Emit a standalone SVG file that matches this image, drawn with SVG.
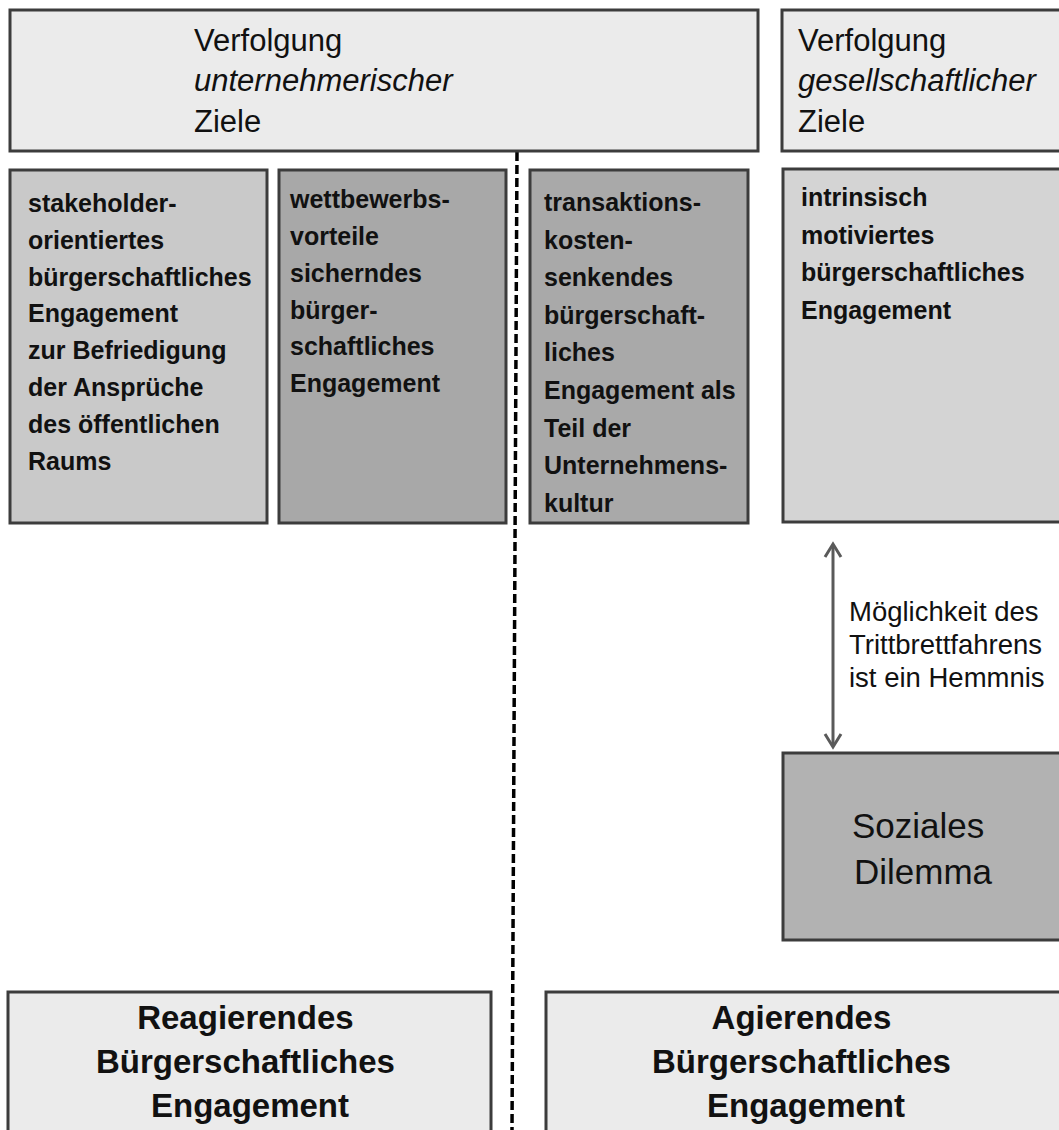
<svg xmlns="http://www.w3.org/2000/svg" width="1059" height="1130" viewBox="0 0 1059 1130">
<style>
.box{stroke:#3c3c3c;stroke-width:3}
.light{fill:#ebebeb}
.t{font-family:"Liberation Sans",Arial,sans-serif;fill:#111}
.hdr{font-size:31px}
.b{font-size:25px;font-weight:bold}
.lbl{font-size:27.5px}
.big{font-size:35px}
.bot{font-size:33px;font-weight:bold}
</style>
<rect width="1059" height="1130" fill="#ffffff"/>

<g id="connectors">
<line x1="517" y1="152" x2="512" y2="1130" stroke="#000" stroke-width="3.5" stroke-dasharray="9,4"/>
<line x1="833" y1="545" x2="833" y2="746" stroke="#5a5a5a" stroke-width="3"/>
<path d="M825,557 L833,544 L841,557" fill="none" stroke="#5a5a5a" stroke-width="3"/>
<path d="M825,734 L833,747 L841,734" fill="none" stroke="#5a5a5a" stroke-width="3"/>
</g>

<g id="top-left">
<rect class="box light" x="10" y="10" width="748" height="141"/>
<text class="t hdr" x="194" y="51">Verfolgung</text>
<text class="t hdr" x="194" y="91" font-style="italic">unternehmerischer</text>
<text class="t hdr" x="194" y="132">Ziele</text>
</g>

<g id="top-right">
<rect class="box light" x="782" y="10" width="300" height="141"/>
<text class="t hdr" x="798" y="51">Verfolgung</text>
<text class="t hdr" x="798" y="91" font-style="italic">gesellschaftlicher</text>
<text class="t hdr" x="798" y="132">Ziele</text>
</g>

<g id="box-stakeholder">
<rect class="box" x="10" y="170" width="257" height="353" fill="#c9c9c9"/>
<text class="t b">
<tspan x="28" y="212">stakeholder-</tspan>
<tspan x="28" y="249">orientiertes</tspan>
<tspan x="28" y="286">bürgerschaftliches</tspan>
<tspan x="28" y="322">Engagement</tspan>
<tspan x="28" y="359">zur Befriedigung</tspan>
<tspan x="28" y="396">der Ansprüche</tspan>
<tspan x="28" y="433">des öffentlichen</tspan>
<tspan x="28" y="470">Raums</tspan>
</text>
</g>

<g id="box-wettbewerb">
<rect class="box" x="279" y="170" width="227" height="353" fill="#a8a8a8"/>
<text class="t b">
<tspan x="290" y="208">wettbewerbs-</tspan>
<tspan x="290" y="245">vorteile</tspan>
<tspan x="290" y="282">sicherndes</tspan>
<tspan x="290" y="319">bürger-</tspan>
<tspan x="290" y="355">schaftliches</tspan>
<tspan x="290" y="392">Engagement</tspan>
</text>
</g>

<g id="box-transaktion">
<rect class="box" x="530" y="170" width="218" height="353" fill="#a9a9a9"/>
<text class="t b">
<tspan x="544" y="211">transaktions-</tspan>
<tspan x="544" y="249">kosten-</tspan>
<tspan x="544" y="286">senkendes</tspan>
<tspan x="544" y="324">bürgerschaft-</tspan>
<tspan x="544" y="361">liches</tspan>
<tspan x="544" y="399">Engagement als</tspan>
<tspan x="544" y="437">Teil der</tspan>
<tspan x="544" y="474">Unternehmens-</tspan>
<tspan x="544" y="512">kultur</tspan>
</text>
</g>

<g id="box-intrinsisch">
<rect class="box" x="783" y="169" width="300" height="353" fill="#d4d4d4"/>
<text class="t b">
<tspan x="801" y="206">intrinsisch</tspan>
<tspan x="801" y="244">motiviertes</tspan>
<tspan x="801" y="281">bürgerschaftliches</tspan>
<tspan x="801" y="319">Engagement</tspan>
</text>
</g>

<g id="label-trittbrett">
<text class="t lbl">
<tspan x="849" y="621">Möglichkeit des</tspan>
<tspan x="849" y="654">Trittbrettfahrens</tspan>
<tspan x="849" y="687">ist ein Hemmnis</tspan>
</text>
</g>

<g id="box-dilemma">
<rect class="box" x="783" y="753" width="300" height="187" fill="#b2b2b2"/>
<text class="t big" text-anchor="middle">
<tspan x="923" y="838">Soziales</tspan>
<tspan x="923" y="884">Dilemma</tspan>
</text>
</g>

<g id="box-reagierend">
<rect class="box light" x="8" y="992" width="483" height="160"/>
<text class="t bot" text-anchor="middle">
<tspan x="250" y="1029">Reagierendes</tspan>
<tspan x="250" y="1073">Bürgerschaftliches</tspan>
<tspan x="250" y="1117">Engagement</tspan>
</text>
</g>

<g id="box-agierend">
<rect class="box light" x="546" y="992" width="530" height="160"/>
<text class="t bot" text-anchor="middle">
<tspan x="806" y="1029">Agierendes</tspan>
<tspan x="806" y="1073">Bürgerschaftliches</tspan>
<tspan x="806" y="1117">Engagement</tspan>
</text>
</g>
</svg>
